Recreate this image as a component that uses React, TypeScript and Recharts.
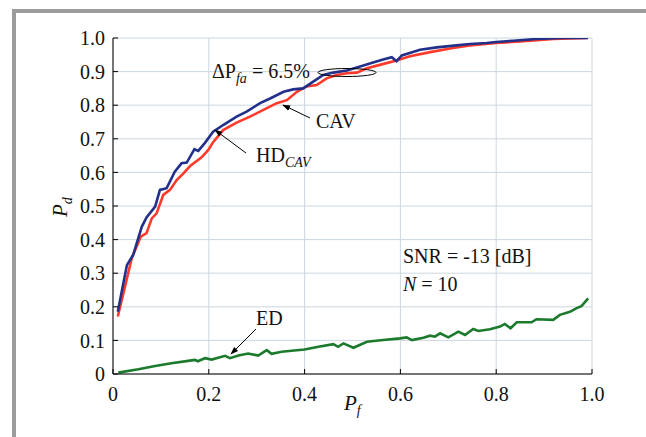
import { CartesianGrid, Line, LineChart, XAxis, YAxis } from 'recharts';

// HD_CAV (blue)
const hdCavPf = [
  0.01, 0.029, 0.042, 0.06, 0.07, 0.088, 0.098, 0.112, 0.129, 0.143, 0.154, 0.17, 0.178, 0.192,
  0.209, 0.23, 0.258, 0.279, 0.307, 0.328, 0.356, 0.376, 0.397, 0.418, 0.439, 0.46, 0.488, 0.516,
  0.543, 0.564, 0.582, 0.592, 0.603, 0.641, 0.676, 0.717, 0.745, 0.78, 0.8, 0.836, 0.884, 0.94, 0.992,
];
const hdCavPd = [
  0.185, 0.324, 0.354, 0.438, 0.466, 0.498, 0.548, 0.553, 0.602, 0.627, 0.629, 0.669, 0.664, 0.688,
  0.721, 0.741, 0.766, 0.781, 0.806, 0.82, 0.84, 0.847, 0.85, 0.87, 0.89, 0.897, 0.903, 0.915,
  0.927, 0.936, 0.943, 0.931, 0.948, 0.965, 0.972, 0.978, 0.982, 0.985, 0.988, 0.992, 0.997, 1.0, 1.0,
];

// CAV (red)
const cavPf = [
  0.01, 0.025, 0.039, 0.058, 0.07, 0.081, 0.091, 0.105, 0.119, 0.133, 0.147, 0.161, 0.185, 0.199,
  0.209, 0.23, 0.258, 0.286, 0.314, 0.342, 0.363, 0.384, 0.404, 0.425, 0.446, 0.467, 0.488, 0.509,
  0.53, 0.557, 0.592, 0.62, 0.662, 0.71, 0.745, 0.8, 0.85, 0.92, 0.99,
];
const cavPd = [
  0.171, 0.26, 0.344, 0.409, 0.419, 0.463, 0.478, 0.533, 0.548, 0.577, 0.597, 0.619, 0.645, 0.667,
  0.69, 0.726, 0.748, 0.766, 0.786, 0.806, 0.815, 0.84, 0.856, 0.86, 0.88, 0.89, 0.895, 0.897,
  0.91, 0.92, 0.933, 0.946, 0.958, 0.97, 0.978, 0.985, 0.99, 0.997, 1.0,
];

// ED (green)
const edPf = [
  0.011, 0.053, 0.088, 0.122, 0.157, 0.171, 0.177, 0.192, 0.206, 0.234, 0.244, 0.262, 0.282, 0.303,
  0.321, 0.331, 0.352, 0.373, 0.4, 0.429, 0.46, 0.47, 0.481, 0.502, 0.53, 0.564, 0.599, 0.613,
  0.624, 0.648, 0.662, 0.672, 0.683, 0.7, 0.721, 0.735, 0.752, 0.763, 0.787, 0.808, 0.818, 0.83,
  0.843, 0.874, 0.884, 0.919, 0.933, 0.954, 0.968, 0.978, 0.992,
];
const edPd = [
  0.004, 0.014, 0.024, 0.032, 0.039, 0.042, 0.038, 0.047, 0.043, 0.054, 0.047, 0.055, 0.061, 0.055,
  0.071, 0.06, 0.066, 0.069, 0.073, 0.081, 0.089, 0.081, 0.091, 0.078, 0.096, 0.101, 0.106, 0.109,
  0.101, 0.108, 0.114, 0.111, 0.121, 0.109, 0.126, 0.116, 0.134, 0.128, 0.133, 0.141, 0.149, 0.136,
  0.154, 0.154, 0.163, 0.161, 0.176, 0.185, 0.196, 0.202, 0.225,
];

const xTicks = [0, 0.2, 0.4, 0.6, 0.8, 1.0];
const yTicks = [0, 0.1, 0.2, 0.3, 0.4, 0.5, 0.6, 0.7, 0.8, 0.9, 1.0];

const zip = (pf: number[], pd: number[]) => pf.map((x, i) => ({ pf: x, pd: pd[i] }));

const serif = '"Liberation Serif", "DejaVu Serif", serif';
const fmt = (v: number) => (v === 0 ? '0' : v.toFixed(1));
const tickStyle = { fontFamily: serif, fontSize: 20, fill: '#111' };

export default function App() {
  return (
    <div
      style={{
        position: 'absolute',
        left: 0,
        top: 0,
        width: 646,
        height: 437,
        overflow: 'hidden',
        background: '#fff',
      }}
    >
      <div
        style={{
          position: 'absolute',
          left: 12,
          top: 9,
          width: 640,
          height: 460,
          border: '4px solid #9c9c9c',
        }}
      />
      <div style={{ position: 'absolute', left: 0, top: 0 }}>
        <LineChart width={646} height={437} margin={{ top: 38, right: 54, bottom: 33, left: 53 }}>
          <CartesianGrid stroke="#cdd7df" strokeWidth={1} />
          <XAxis
            dataKey="pf"
            type="number"
            domain={[0, 1]}
            ticks={xTicks}
            tickFormatter={fmt}
            height={30}
            tickSize={-5}
            tickMargin={18}
            axisLine={{ stroke: '#000' }}
            tickLine={{ stroke: '#000' }}
            tick={tickStyle}
            allowDataOverflow
          />
          <XAxis
            xAxisId="top"
            orientation="top"
            type="number"
            domain={[0, 1]}
            ticks={xTicks}
            tickFormatter={() => ''}
            height={0}
            tickSize={-5}
            axisLine={{ stroke: '#000' }}
            tickLine={{ stroke: '#000' }}
          />
          <YAxis
            type="number"
            domain={[0, 1]}
            ticks={yTicks}
            tickFormatter={fmt}
            width={60}
            tickSize={-5}
            tickMargin={13}
            axisLine={{ stroke: '#000' }}
            tickLine={{ stroke: '#000' }}
            tick={tickStyle}
            allowDataOverflow
          />
          <YAxis
            yAxisId="right"
            orientation="right"
            type="number"
            domain={[0, 1]}
            ticks={yTicks}
            tickFormatter={() => ''}
            width={0}
            tickSize={-5}
            axisLine={{ stroke: '#000' }}
            tickLine={{ stroke: '#000' }}
          />
          <Line
            data={zip(edPf, edPd)}
            dataKey="pd"
            type="linear"
            stroke="#1b7a2c"
            strokeWidth={2.6}
            dot={false}
            isAnimationActive={false}
          />
          <Line
            data={zip(cavPf, cavPd)}
            dataKey="pd"
            type="linear"
            stroke="#ff3a2a"
            strokeWidth={2.6}
            dot={false}
            isAnimationActive={false}
          />
          <Line
            data={zip(hdCavPf, hdCavPd)}
            dataKey="pd"
            type="linear"
            stroke="#23308a"
            strokeWidth={2.6}
            dot={false}
            isAnimationActive={false}
          />
        </LineChart>
      </div>
      <svg
        width={646}
        height={437}
        style={{ position: 'absolute', left: 0, top: 0, pointerEvents: 'none' }}
        fontFamily={serif}
        fill="#111"
      >
        <defs>
          <marker id="ah" viewBox="0 0 10 10" refX="9" refY="5" markerWidth="8" markerHeight="8" orient="auto">
            <path d="M0,1.5 L10,5 L0,8.5 z" fill="#000" />
          </marker>
        </defs>
        {/* axis titles */}
        <text transform="translate(67,217) rotate(-90)" fontSize={21} fontStyle="italic">
          P<tspan fontSize={14} dy={5}>d</tspan>
        </text>
        <text x={344} y={410} fontSize={21} fontStyle="italic">
          P<tspan fontSize={14} dy={5}>f</tspan>
        </text>
        {/* ΔPfa */}
        <text x={212} y={78} fontSize={20}>
          ΔP<tspan fontSize={14} fontStyle="italic" dy={5}>fa</tspan>
          <tspan dy={-5}> = 6.5%</tspan>
        </text>
        <ellipse cx={347} cy={72.5} rx={29} ry={4} fill="none" stroke="#000" strokeWidth={1} />
        {/* CAV */}
        <text x={316} y={128} fontSize={20}>CAV</text>
        <line x1={310} y1={118} x2={283} y2={105} stroke="#000" strokeWidth={1} markerEnd="url(#ah)" />
        {/* HD_CAV */}
        <text x={256} y={162} fontSize={20}>
          HD<tspan fontSize={14} fontStyle="italic" dy={5}>CAV</tspan>
        </text>
        <line x1={246} y1={153} x2={215} y2={130} stroke="#000" strokeWidth={1} markerEnd="url(#ah)" />
        {/* ED */}
        <text x={256} y={325} fontSize={20}>ED</text>
        <line x1={256} y1={329} x2={231} y2={354} stroke="#000" strokeWidth={1} markerEnd="url(#ah)" />
        {/* conditions */}
        <text x={403} y={263} fontSize={20}>SNR = -13 [dB]</text>
        <text x={403} y={291} fontSize={20}>
          <tspan fontStyle="italic">N</tspan> = 10
        </text>
      </svg>
    </div>
  );
}
